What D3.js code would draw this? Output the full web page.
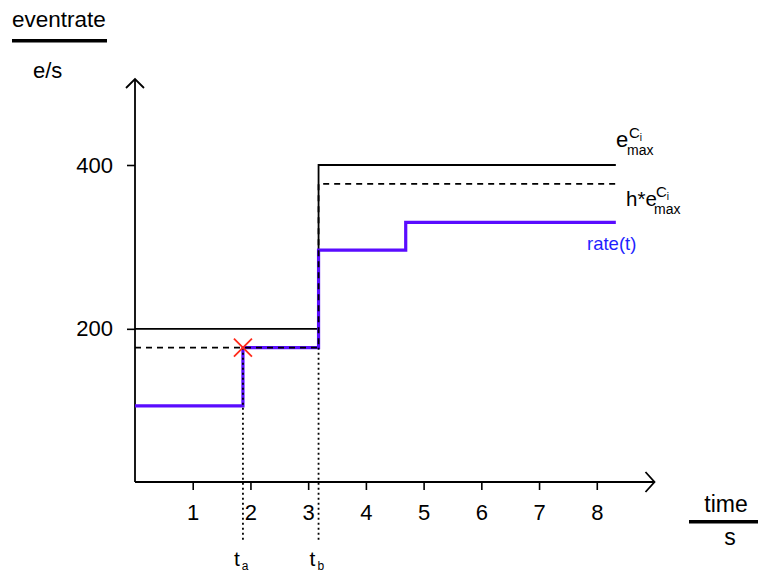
<!DOCTYPE html>
<html>
<head>
<meta charset="utf-8">
<script src="https://cdn.jsdelivr.net/npm/d3@7"></script>
<style>
  body { margin: 0; background: #fff; }
  text { font-family: "Liberation Sans", Arial, sans-serif; }
</style>
</head>
<body>
<svg id="chart"></svg>
<script>
// Axis ticks
const xTicks = [1, 2, 3, 4, 5, 6, 7, 8];
const yTicks = [200, 400];

// Switching instants
const ta = 1.87;
const tb = 3.18;
const tEnd = 8.33;

// e_max^Ci step (solid), h*e_max^Ci step (dashed), rate(t) step (blue)
const emaxTimes = [0, tb, tEnd];
const emaxValues = [200, 400, 400];
const hTimes = [0, tb, tEnd];
const hValues = [177, 377, 377];
const rateTimes = [0, ta, tb, 4.69, tEnd];
const rateValues = [106, 177, 296, 330, 330];

// Crossing point marked with a red cross
const crossT = ta;
const crossV = 177;

function drawChart() {
  const width = 758;
  const height = 572;

  const svg = d3.select('#chart')
      .attr('width', width)
      .attr('height', height);

  // x from the vertical axis to the arrow tip, y from the horizontal axis up
  const x = d3.scaleLinear().domain([0, 9]).range([135, 654.5]);
  const y = d3.scaleLinear().domain([13, 400]).range([482, 165]);
  const yTop = 505;      // arrow tip of y axis
  const dotLow = -58;    // where the dotted markers stop below the axis

  const zip = (ts, vs) => ts.map((t, i) => [t, vs[i]]);
  const step = d3.line()
      .x((d) => x(d[0]))
      .y((d) => y(d[1]))
      .curve(d3.curveStepAfter);

  // x axis ticks and labels
  svg.append('g')
      .attr('transform', `translate(0,${y(13)})`)
      .call(d3.axisBottom(x).tickValues(xTicks).tickSize(8).tickPadding(14))
      .call((g) => g.select('.domain').remove())
      .call((g) => g.selectAll('line').attr('stroke', '#000').attr('stroke-width', 1.6))
      .call((g) => g.selectAll('text')
          .attr('font-size', 22)
          .attr('fill', '#000')
          .style('font-family', '"Liberation Sans", Arial, sans-serif'));

  // y axis ticks and labels
  svg.append('g')
      .attr('transform', `translate(${x(0)},0)`)
      .call(d3.axisLeft(y).tickValues(yTicks).tickSize(8).tickPadding(14))
      .call((g) => g.select('.domain').remove())
      .call((g) => g.selectAll('line').attr('stroke', '#000').attr('stroke-width', 1.6))
      .call((g) => g.selectAll('text')
          .attr('font-size', 22)
          .attr('fill', '#000')
          .style('font-family', '"Liberation Sans", Arial, sans-serif'));

  // Axis lines with open arrow heads
  const axes = svg.append('g')
      .attr('fill', 'none')
      .attr('stroke', '#000')
      .attr('stroke-width', 1.8);
  axes.append('path')
      .attr('d', `M${x(0)},${y(13)}H${x(9)}`);
  axes.append('path')
      .attr('d', `M${x(9) - 9},${y(13) - 10}L${x(9)},${y(13)}L${x(9) - 9},${y(13) + 10}`);
  axes.append('path')
      .attr('d', `M${x(0)},${y(13)}V${y(yTop)}`);
  axes.append('path')
      .attr('d', `M${x(0) - 9},${y(yTop) + 9}L${x(0)},${y(yTop)}L${x(0) + 9},${y(yTop) + 9}`);

  // e_max step
  svg.append('path')
      .attr('d', step(zip(emaxTimes, emaxValues)))
      .attr('fill', 'none')
      .attr('stroke', '#000')
      .attr('stroke-width', 1.8);

  // rate(t)
  svg.append('path')
      .attr('d', step(zip(rateTimes, rateValues)))
      .attr('fill', 'none')
      .attr('stroke', '#5a0cff')
      .attr('stroke-width', 3.2);

  // h * e_max step
  svg.append('path')
      .attr('d', step(zip(hTimes, hValues)))
      .attr('fill', 'none')
      .attr('stroke', '#000')
      .attr('stroke-width', 1.8)
      .attr('stroke-dasharray', '6,5');

  // Dotted markers at ta and tb
  svg.append('g')
      .selectAll('line')
      .data([ta, tb])
      .enter()
      .append('line')
      .attr('x1', (d) => x(d))
      .attr('x2', (d) => x(d))
      .attr('y1', y(crossV))
      .attr('y2', y(dotLow))
      .attr('stroke', '#000')
      .attr('stroke-width', 1.8)
      .attr('stroke-dasharray', '2,3');

  // Red cross
  const cx = x(crossT);
  const cy = y(crossV);
  svg.append('path')
      .attr('d', `M${cx - 9},${cy - 9}L${cx + 9},${cy + 9}M${cx - 9},${cy + 9}L${cx + 9},${cy - 9}`)
      .attr('stroke', '#ff2a1a')
      .attr('stroke-width', 1.8)
      .attr('fill', 'none');

  // ta / tb labels
  const tl = svg.append('g').attr('font-size', 21);
  [[ta, 'a'], [tb, 'b']].forEach(([t, s]) => {
    const lab = tl.append('text')
        .attr('x', x(t) - 9)
        .attr('y', 566);
    lab.append('tspan').text('t');
    lab.append('tspan').attr('font-size', 12).attr('dx', 2).attr('dy', 4).text(s);
  });

  // Axis titles
  svg.append('text').attr('x', 12).attr('y', 27).attr('font-size', 22.5).text('eventrate');
  svg.append('rect').attr('x', 12).attr('y', 39).attr('width', 95).attr('height', 3.5);
  svg.append('text').attr('x', 33).attr('y', 78).attr('font-size', 22).text('e/s');

  svg.append('text').attr('x', 726).attr('y', 512).attr('font-size', 23)
      .attr('text-anchor', 'middle').text('time');
  svg.append('rect').attr('x', 689).attr('y', 520).attr('width', 69).attr('height', 3.5);
  svg.append('text').attr('x', 730).attr('y', 545).attr('font-size', 23)
      .attr('text-anchor', 'middle').text('s');

  // Series labels: base, superscript C_i and subscript "max" in one text each
  const eLabel = (base, bx, by, cxPos, mxPos, size) => {
    const t = svg.append('text').attr('x', bx).attr('y', by).attr('font-size', size);
    t.append('tspan').text(base);
    t.append('tspan').attr('x', cxPos).attr('y', by - 9).attr('font-size', 15).text('C');
    t.append('tspan').attr('dy', 3).attr('font-size', 10).text('i');
    t.append('tspan').attr('x', mxPos).attr('y', by + 8).attr('font-size', 14).text('max');
  };
  eLabel('e', 616, 147, 629, 627, 22);
  eLabel('h*e', 626, 206, 656, 654, 20.5);

  svg.append('text').attr('x', 587).attr('y', 250).attr('font-size', 18.5)
      .attr('fill', '#1f1fff').text('rate(t)');
}

drawChart();
</script>
</body>
</html>
